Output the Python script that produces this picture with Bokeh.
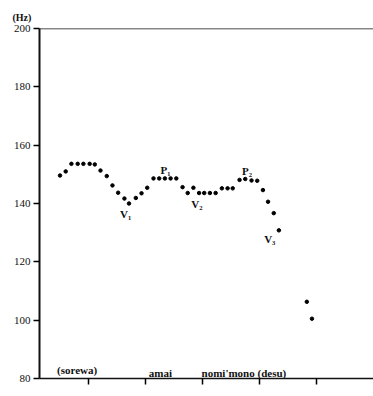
from bokeh.plotting import figure
from bokeh.models import Range1d, FixedTicker, Span, CustomJSTickFormatter
from bokeh.core.properties import value
from bokeh.embed import file_html
from bokeh.resources import INLINE

# time (ms) and fundamental frequency (Hz)
t_ms = [0, 10, 20, 31, 41, 52, 61, 71, 82, 92, 102, 113, 121, 133, 143, 153,
        164, 174, 184, 194, 204, 215, 224, 234, 244, 253, 263, 273, 284, 294,
        303, 315, 325, 336, 346, 356, 365, 375, 384, 433, 442]
f0_hz = [149.6, 151.0, 153.6, 153.6, 153.6, 153.6, 153.4, 151.3, 149.4, 146.2,
         143.7, 141.7, 140.0, 141.9, 143.5, 145.4, 148.6, 148.6, 148.6, 148.6,
         148.6, 145.6, 143.6, 145.4, 143.6, 143.6, 143.6, 143.6, 145.2, 145.2,
         145.2, 148.1, 148.4, 147.9, 147.8, 144.6, 140.6, 136.7, 130.8, 106.3,
         100.5]

# point labels (valleys / peaks)
mark_text = ["V\u2081", "P\u2081", "V\u2082", "P\u2082", "V\u2083"]
mark_t = [115, 185, 240, 328, 368]
mark_hz = [136.4, 151.6, 139.8, 151.2, 127.7]

# words under the contour
word_text = ["(sorewa)", "amai", "nomi'mono  (desu)"]
word_t = [30, 176, 325]
word_hz = [83.0, 82.0, 82.0]

y_ticks = [80, 100, 120, 140, 160, 180, 200]
x_ticks = [50, 150, 250, 350, 450]

SERIF = "Liberation Serif"

p = figure(width=373, height=388, output_backend="svg", toolbar_location=None,
           x_range=Range1d(-36, 550), y_range=Range1d(80, 200),
           min_border_left=39, min_border_right=0, min_border_top=28,
           min_border_bottom=10)
p.outline_line_color = None
p.xgrid.visible = False
p.ygrid.visible = False
p.background_fill_color = "white"
p.border_fill_color = "white"

p.title.text = "(Hz)"
p.title.align = "left"
p.title.offset = -27
p.title.standoff = 11
p.title.text_font = SERIF
p.title.text_font_style = "bold"
p.title.text_font_size = "10px"
p.title.text_color = "#111111"

ya = p.yaxis[0]
ya.ticker = FixedTicker(ticks=y_ticks)
ya.minor_tick_line_color = None
ya.major_tick_in = 0
ya.major_tick_out = 6
ya.major_tick_line_width = 1.5
ya.axis_line_width = 2
ya.axis_line_color = "#111111"
ya.major_label_standoff = 3
ya.major_label_text_font = SERIF
ya.major_label_text_font_size = "11px"
ya.major_label_text_color = "#111111"

xa = p.xaxis[0]
xa.ticker = FixedTicker(ticks=x_ticks)
xa.minor_tick_line_color = None
xa.major_tick_in = 0
xa.major_tick_out = 6
xa.major_tick_line_width = 1.5
xa.axis_line_width = 1.5
xa.axis_line_color = "#111111"
xa.formatter = CustomJSTickFormatter(code="return '';")
xa.major_label_standoff = 0

p.add_layout(Span(location=200, dimension="width", line_color="#111111", line_width=1.5))

p.scatter(t_ms, f0_hz, size=3.5, color="black")

p.text(mark_t, mark_hz, text=mark_text, text_font=value(SERIF),
       text_font_style="bold", text_font_size="11px", text_align="center",
       text_baseline="middle", text_color="#111111")

p.text(word_t, word_hz, text=word_text, text_font=value(SERIF),
       text_font_style="bold", text_font_size="11px", text_align="center",
       text_baseline="middle", text_color="#111111")

open("out.html", "w").write(file_html(p, INLINE))
